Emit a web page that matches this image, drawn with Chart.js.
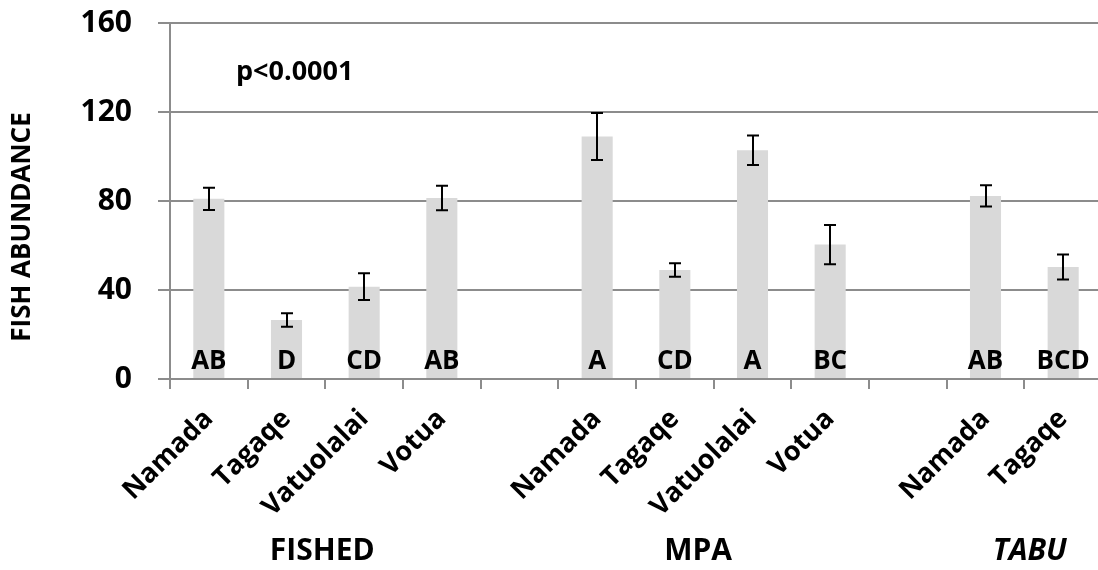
<!DOCTYPE html>
<html><head><meta charset="utf-8">
<script src="https://cdn.jsdelivr.net/npm/chart.js@4/dist/chart.umd.min.js"></script>
<style>
html,body{margin:0;padding:0;background:#fff;overflow:hidden;width:1098px;height:570px}
#wrap{position:relative;width:1102px;height:570px}
</style></head><body>
<div id="wrap"><canvas id="c" width="1102" height="570"></canvas></div>
<script>
const categories = ['Namada','Tagaqe','Vatuolalai','Votua','','Namada','Tagaqe','Vatuolalai','Votua','','Namada','Tagaqe'];
const means  = [81, 26.5, 41.5, 81.3, null, 109, 49, 102.8, 60.4, null, 82.3, 50.3];
const errors = [5, 3, 6, 5.5, null, 10.6, 3, 6.6, 8.8, null, 4.8, 5.6];
const letters = ['AB','D','CD','AB','','A','CD','A','BC','','AB','BCD'];
const groups = ['FISHED','MPA','TABU'];
const groupCenters = [1.46, 6.3, 10.57];
const groupItalic = [false, false, true];
const yTickValues = [0, 40, 80, 120, 160];
const pLabel = 'p<0.0001';
const yTitle = 'FISH ABUNDANCE';

const FONT = '"Open Sans", Lato, sans-serif';
const GRID = '#8c8c8c';

const annotate = {
  id: 'annotate',
  afterDatasetsDraw(chart) {
    const ctx = chart.ctx;
    const xs = chart.scales.x, ys = chart.scales.y;
    const meta = chart.getDatasetMeta(0);
    ctx.save();
    // error bars
    ctx.strokeStyle = '#000';
    ctx.lineWidth = 2;
    means.forEach((m, i) => {
      if (m == null) return;
      const x = Math.round(meta.data[i].x);
      const yt = ys.getPixelForValue(m + errors[i]);
      const yb = ys.getPixelForValue(m - errors[i]);
      ctx.beginPath();
      ctx.moveTo(x, yt); ctx.lineTo(x, yb);
      ctx.moveTo(x - 6, yt); ctx.lineTo(x + 6, yt);
      ctx.moveTo(x - 6, yb); ctx.lineTo(x + 6, yb);
      ctx.stroke();
    });
    // letters
    ctx.fillStyle = '#000';
    ctx.font = 'bold 26px ' + FONT;
    ctx.textAlign = 'center';
    ctx.textBaseline = 'middle';
    letters.forEach((l, i) => {
      if (!l) return;
      ctx.fillText(l, meta.data[i].x, ys.getPixelForValue(0) - 17);
    });
    // p label
    ctx.font = 'bold 27px ' + FONT;
    ctx.textAlign = 'left';
    ctx.fillText(pLabel, chart.chartArea.left + 66, ys.getPixelForValue(138));
    // group labels
    groups.forEach((g, i) => {
      ctx.font = (groupItalic[i] ? 'italic ' : '') + 'bold 30px ' + FONT;
      ctx.textAlign = 'center';
      ctx.fillText(g, xs.getPixelForValue(groupCenters[i]), 551);
    });
    // y title
    ctx.translate(23, 227);
    ctx.rotate(-Math.PI / 2);
    ctx.font = 'bold 26px ' + FONT;
    ctx.textAlign = 'center';
    ctx.fillText(yTitle, 0, 0);
    ctx.restore();
  }
};

new Chart(document.getElementById('c'), {
  type: 'bar',
  data: {
    labels: categories,
    datasets: [{
      data: means,
      backgroundColor: '#d9d9d9',
      borderWidth: 0,
      barPercentage: 0.4,
      categoryPercentage: 1.0
    }]
  },
  options: {
    responsive: false,
    devicePixelRatio: 1,
    animation: false,
    layout: { padding: { top: 23, left: 0, right: 0, bottom: 0 } },
    plugins: { legend: { display: false }, tooltip: { enabled: false } },
    scales: {
      x: {
        afterFit(s) { s.height = 191; s.paddingLeft = 0; s.paddingRight = 0; },
        grid: { display: true, drawOnChartArea: false, drawTicks: true, tickLength: 10, color: GRID, lineWidth: 2, offset: true },
        border: { display: true, color: GRID, width: 2 },
        ticks: {
          autoSkip: false, minRotation: 45, maxRotation: 45, padding: 14,
          color: '#000', font: { family: FONT, weight: 'bold', size: 27 }
        }
      },
      y: {
        min: 0, max: 160,
        afterFit(s) { s.width = 170; s.paddingTop = 0; s.paddingBottom = 0; },
        afterBuildTicks(s) { s.ticks = yTickValues.map(v => ({ value: v })); },
        grid: { color: GRID, lineWidth: 2, tickLength: 12 },
        border: { display: true, color: GRID, width: 2 },
        ticks: { padding: 26, color: '#000', font: { family: FONT, weight: 'bold', size: 30 } }
      }
    }
  },
  plugins: [annotate]
});
</script>
</body></html>
